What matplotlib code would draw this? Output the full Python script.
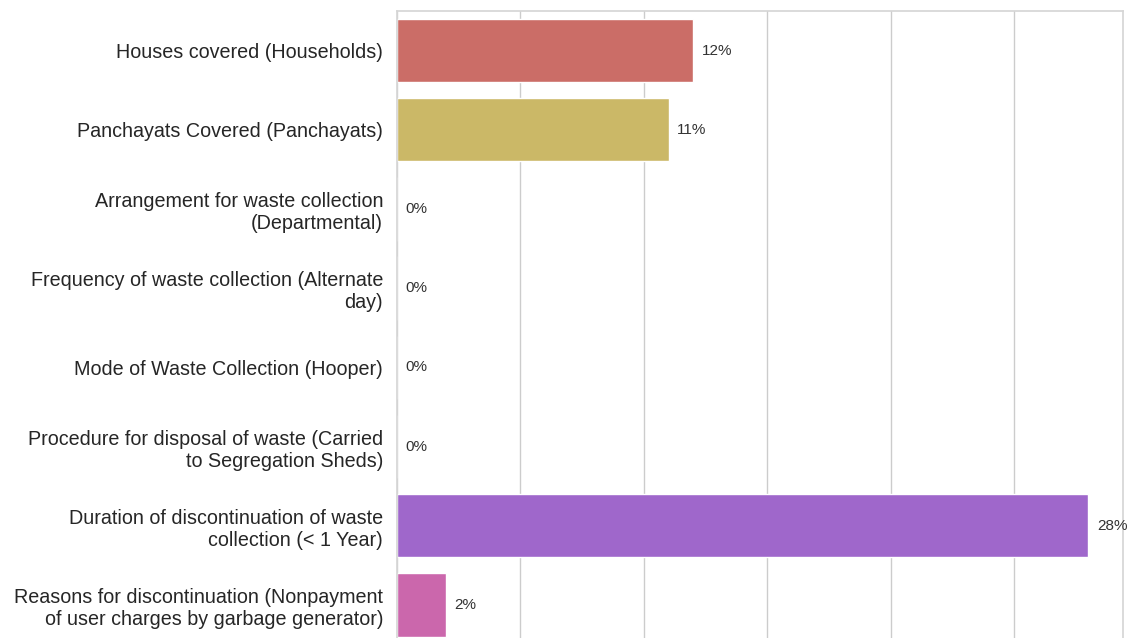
import textwrap
import matplotlib
matplotlib.use('Agg')
import matplotlib.pyplot as plt
import seaborn as sns

categories = ['Houses covered (Households)',
              'Panchayats Covered (Panchayats)',
              'Arrangement for waste collection (Departmental)',
              'Frequency of waste collection (Alternate day)',
              'Mode of Waste Collection (Hooper)',
              'Procedure for disposal of waste (Carried to Segregation Sheds)',
              'Duration of discontinuation of waste collection (< 1 Year)',
              'Reasons for discontinuation (Nonpayment of user charges by garbage generator)']
values = [12.0, 11.0, 0, 0, 0, 0, 28.0, 2.0]  # percent

sns.set_theme(style='whitegrid')
plt.rcParams['font.family'] = ['Liberation Sans', 'DejaVu Sans']

fig = plt.figure(figsize=(11.28, 6.38), dpi=100)
ax = fig.add_axes([397 / 1128, -6.5 / 638, 726 / 1128, 633.5 / 638])

labels = [textwrap.fill(c, 40) for c in categories]
colors = sns.color_palette('hls', len(values))
sns.barplot(x=values, y=labels, hue=labels, palette=colors, legend=False, ax=ax, orient='h')

ax.set_xlim(0, max(values) * 1.05)
ax.set_xticks([0, 5, 10, 15, 20, 25])
ax.set_xticklabels([])
ax.tick_params(axis='x', length=0)
ax.tick_params(axis='y', labelsize=14.2, length=0, pad=10)
ax.set_xlabel('')
ax.set_ylabel('')

for i, v in enumerate(values):
    ax.annotate(f'{v:.0f}%', (v, i), xytext=(6, 0), textcoords='offset points',
                ha='left', va='center', fontsize=11, color='#333333')

for s in ax.spines.values():
    s.set_color('#d6d6d6')

fig.savefig('out.png', dpi=100)
